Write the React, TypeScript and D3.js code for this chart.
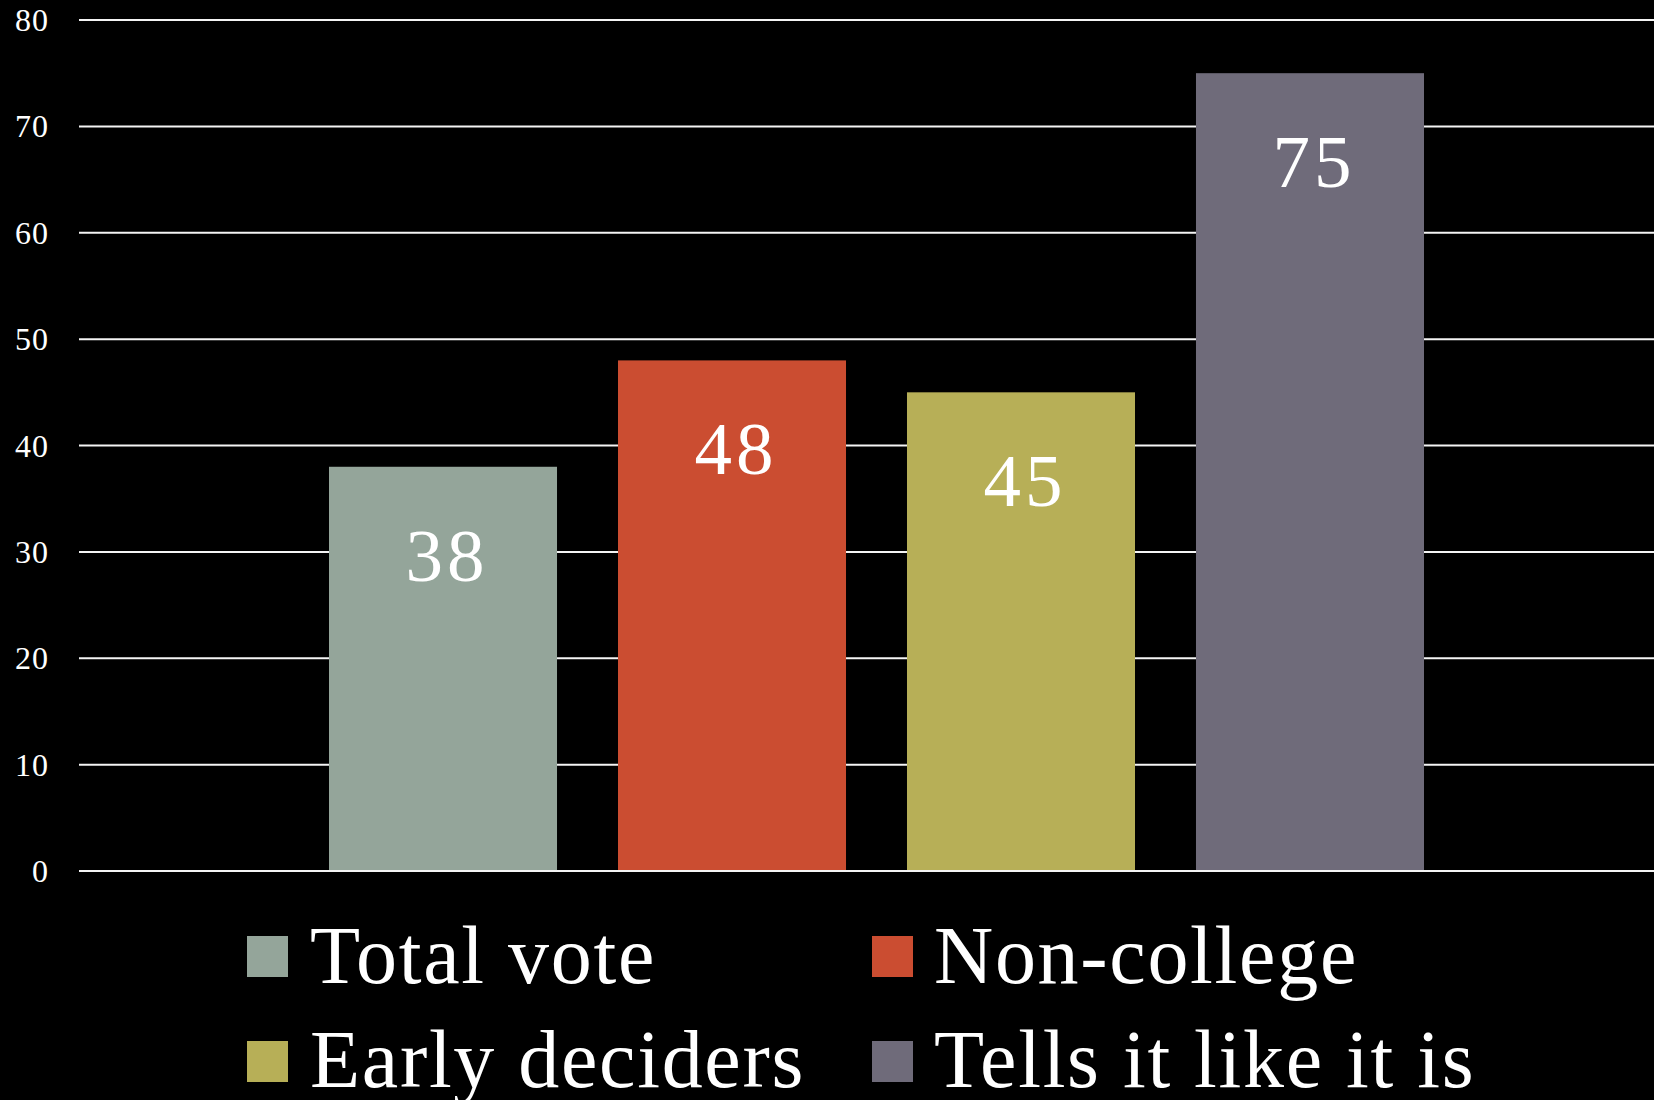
import React from "react";
import * as d3 from "d3";

const seriesNames = ["Total vote", "Non-college", "Early deciders", "Tells it like it is"];
const seriesValues = [38, 48, 45, 75];
const seriesColors = ["#94A59A", "#CB4D31", "#B7AF57", "#6F6B7A"];
const yTicks = [0, 10, 20, 30, 40, 50, 60, 70, 80];

const W = 1654;
const H = 1100;
const FONT = "'Liberation Serif', 'Times New Roman', serif";

export default function App() {
  const y = d3.scaleLinear().domain([0, 80]).range([871, 20]);
  const x = d3
    .scaleBand<string>()
    .domain(seriesNames)
    .range([329, 1424])
    .paddingInner(0.211)
    .paddingOuter(0);

  const legendPos = [
    { sx: 247, sy: 936, tx: 310, ty: 983 },
    { sx: 872, sy: 936, tx: 934, ty: 983 },
    { sx: 247, sy: 1041, tx: 310, ty: 1087 },
    { sx: 872, sy: 1041, tx: 934, ty: 1087 },
  ];

  return (
    <svg
      width={W}
      height={H}
      style={{ position: "absolute", left: 0, top: 0, background: "#000" }}
    >
      <rect x={0} y={0} width={W} height={H} fill="#000" />
      {yTicks.map((t) => (
        <g key={t}>
          <line x1={79} x2={W} y1={y(t)} y2={y(t)} stroke="#f4f4f4" strokeWidth={2} />
          <text
            x={49}
            y={y(t) + 11}
            textAnchor="end"
            fill="#fff"
            fontFamily={FONT}
            fontSize={32}
            letterSpacing={1}
          >
            {t}
          </text>
        </g>
      ))}
      {seriesNames.map((s, i) => {
        const v = seriesValues[i];
        const bx = x(s)!;
        const top = y(v);
        return (
          <g key={s}>
            <rect
              x={bx}
              y={top}
              width={x.bandwidth()}
              height={y(0) - top - 1}
              fill={seriesColors[i]}
            />
            <text
              x={bx + x.bandwidth() / 2 + 4}
              y={top + 114}
              textAnchor="middle"
              fill="#fff"
              fontFamily={FONT}
              fontSize={75}
              letterSpacing={4}
            >
              {v}
            </text>
          </g>
        );
      })}
      {seriesNames.map((s, i) => {
        const p = legendPos[i];
        return (
          <g key={"lg" + s}>
            <rect x={p.sx} y={p.sy} width={41} height={41} fill={seriesColors[i]} />
            <text
              x={p.tx}
              y={p.ty}
              fill="#fff"
              fontFamily={FONT}
              fontSize={82}
              letterSpacing={1.7}
            >
              {s}
            </text>
          </g>
        );
      })}
    </svg>
  );
}
